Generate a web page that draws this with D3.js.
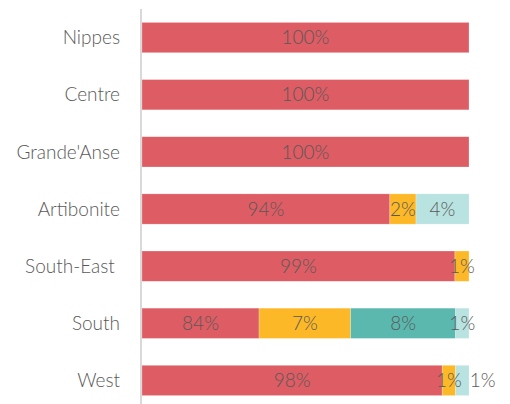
<!DOCTYPE html>
<html><head><meta charset="utf-8">
<script src="https://cdn.jsdelivr.net/npm/d3@7"></script>
<style>body{margin:0;background:#fff}svg{display:block}text{font-family:Lato,"Open Sans",sans-serif;font-weight:300}</style>
</head><body><svg id="c" width="510" height="404"></svg>
<script>
const categories = ["Nippes","Centre","Grande'Anse","Artibonite","South-East ","South","West"];
const seriesKeys = ["s1","s2","s3","s4"];
const seriesColors = ["#DE5C63","#FDB827","#5BB8AE","#B8E3E0"];
// drawn segment shares
const s1 = [100,100,100,75.8,95.7,35.8,91.8];
const s2 = [0,0,0,8.0,4.3,28.0,4.1];
const s3 = [0,0,0,0,0,32.1,0];
const s4 = [0,0,0,16.2,0,4.1,4.1];
// printed labels
const l1 = ["100%","100%","100%","94%","99%","84%","98%"];
const l2 = ["","","","2%","1%","7%","1%"];
const l3 = ["","","","","","8%",""];
const l4 = ["","","","4%","","1%","1%"];

const vals=[s1,s2,s3,s4], labs=[l1,l2,l3,l4];
const svg=d3.select("#c");
const x=d3.scaleLinear().domain([0,100]).range([142,469]);
const y=d3.scaleBand().domain(categories).range([9,409]).paddingInner(0.47).paddingOuter(0.235);

svg.append("g").selectAll("text").data(categories).join("text")
  .attr("x",120).attr("y",d=>y(d)+y.bandwidth()/2).attr("dy","0.35em")
  .attr("text-anchor","end").attr("font-size",19).attr("fill","#595959")
  .style("white-space","pre").text(d=>d);

categories.forEach((c,i)=>{
  let acc=0;
  const segs=[];
  vals.forEach((arr,k)=>{
    const v=arr[i];
    if(v>0){segs.push({k,x0:acc,x1:acc+v,label:labs[k][i]});}
    acc+=v;
  });
  const g=svg.append("g");
  g.selectAll("rect").data(segs).join("rect")
    .attr("x",d=>x(d.x0)).attr("width",d=>x(d.x1)-x(d.x0))
    .attr("y",y(c)).attr("height",y.bandwidth())
    .attr("fill",d=>seriesColors[d.k]).attr("stroke","#fff").attr("stroke-opacity",0.4).attr("stroke-width",0.6);
  let prevRight=-1e9;
  segs.forEach(d=>{
    let cx=(x(d.x0)+x(d.x1))/2;
    const t=g.append("text").attr("y",y(c)+y.bandwidth()/2).attr("dy","0.35em")
      .attr("text-anchor","middle").attr("font-size",19).attr("fill","#595959").text(d.label);
    const w=t.node().getComputedTextLength();
    if(cx-w/2<prevRight){cx=prevRight+8+w/2;}
    t.attr("x",cx);
    prevRight=cx+w/2;
  });
});

svg.append("line").attr("x1",141).attr("x2",141).attr("y1",9).attr("y2",404)
  .attr("stroke","#d9d9d9").attr("stroke-width",2);
</script></body></html>
